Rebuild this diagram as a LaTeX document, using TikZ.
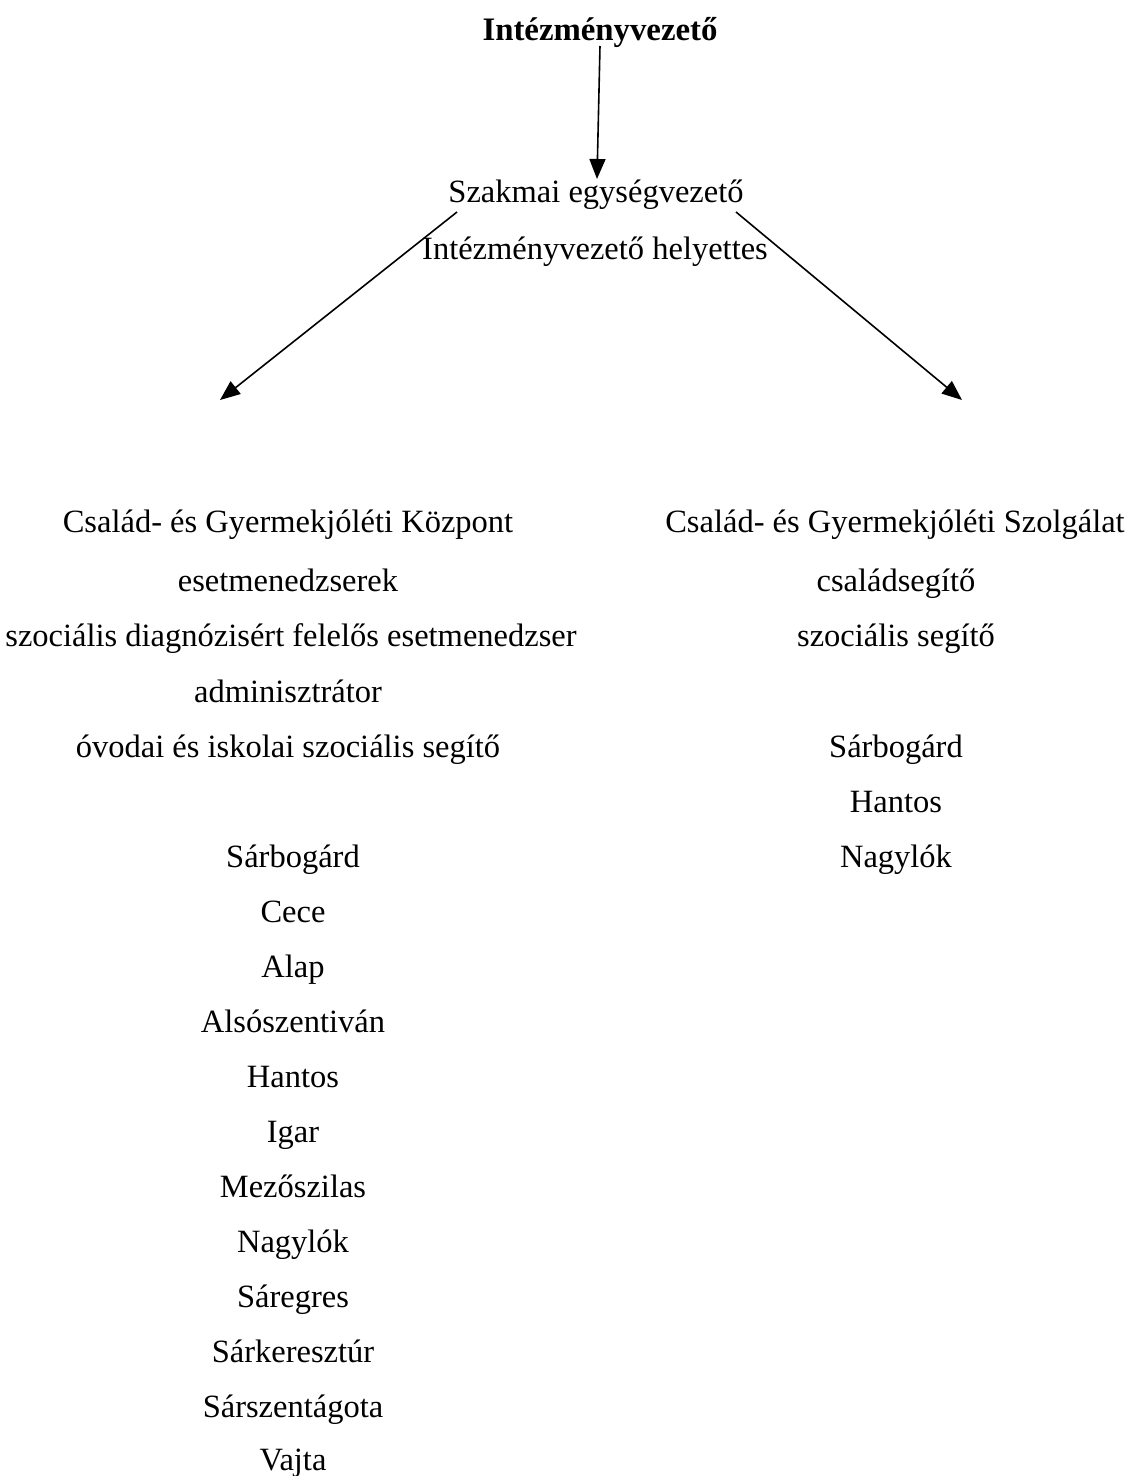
\documentclass[tikz,border=0pt]{standalone}
\usepackage{fontspec}
\setmainfont{Liberation Serif}
\usetikzlibrary{arrows.meta}
\begin{document}
\begin{tikzpicture}[x=1pt,y=-1pt,
  lbl/.style={anchor=base,inner sep=0pt,font=\fontsize{32.5}{39}\selectfont},
  conn/.style={line width=1.6pt,-{Triangle[length=20pt,width=16pt]}}]
\useasboundingbox (0,0) rectangle (1127,1476);
\node[lbl,font=\fontsize{32.8}{39}\selectfont\bfseries] (top) at (600,40) {Intézményvezető};
\node[lbl] (szak) at (596,202) {Szakmai egységvezető};
\node[lbl] (help) at (595,259) {Intézményvezető helyettes};
% left column
\node[lbl] (l1) at (288,532) {Család- és Gyermekjóléti Központ};
\node[lbl] (l2) at (288,591) {esetmenedzserek};
\node[lbl] (l3) at (291,646) {szociális diagnózisért felelős esetmenedzser};
\node[lbl] (l4) at (288,702) {adminisztrátor};
\node[lbl] (l5) at (288,757) {óvodai és iskolai szociális segítő};
\node[lbl] (p1) at (293,867) {Sárbogárd};
\node[lbl] (p2) at (293,922) {Cece};
\node[lbl] (p3) at (293,977) {Alap};
\node[lbl] (p4) at (293,1032) {Alsószentiván};
\node[lbl] (p5) at (293,1087) {Hantos};
\node[lbl] (p6) at (293,1142) {Igar};
\node[lbl] (p7) at (293,1197) {Mezőszilas};
\node[lbl] (p8) at (293,1252) {Nagylók};
\node[lbl] (p9) at (293,1307) {Sáregres};
\node[lbl] (p10) at (293,1362) {Sárkeresztúr};
\node[lbl] (p11) at (293,1417) {Sárszentágota};
\node[lbl] (p12) at (293,1470) {Vajta};
% right column
\node[lbl] (r1) at (895,532) {Család- és Gyermekjóléti Szolgálat};
\node[lbl] (r2) at (896,591) {családsegítő};
\node[lbl] (r3) at (896,646) {szociális segítő};
\node[lbl] (q1) at (896,757) {Sárbogárd};
\node[lbl] (q2) at (896,812) {Hantos};
\node[lbl] (q3) at (896,867) {Nagylók};
% connectors
\coordinate (ts) at (600,46);
\coordinate (te) at (597,179);
\coordinate (ls) at (457,212);
\coordinate (le) at (220,400);
\coordinate (rs) at (736,212);
\coordinate (re) at (962,400);
\draw[conn] (ts) -- (te);
\draw[conn] (ls) -- (le);
\draw[conn] (rs) -- (re);
\end{tikzpicture}
\end{document}
